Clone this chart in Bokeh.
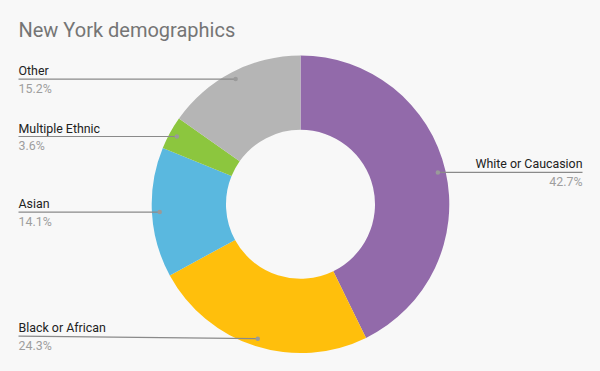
import math
from bokeh.plotting import figure
from bokeh.models import Range1d, ColumnDataSource
from bokeh.core.properties import value
from bokeh.embed import file_html
from bokeh.resources import INLINE

# ---- data ----
title = "New York demographics"
categories = ["White or Caucasion", "Black or African", "Asian", "Multiple Ethnic", "Other"]
percentages = [42.7, 24.3, 14.1, 3.6, 15.2]
colors = ["#926aaa", "#ffbf0c", "#5ab8df", "#8cc63e", "#b5b5b5"]

# ---- layout (reference pixel coords, y measured from top) ----
W, H = 600, 371
M = 8
CX, CY = 300.0, 203.8
R_OUT, R_IN, R_DOT = 148.8, 74.5, 141.0
LEFT_X, RIGHT_X = 18, 582
# label line y (ref px) where it differs from the dot (collision shift)
label_line_override = {"Black or African": 335.7}

def Y(ry):
    return H - ry

p = figure(width=W - 2 * M, height=H - 2 * M, output_backend="svg",
           toolbar_location=None, x_range=Range1d(0, W - 2 * M),
           y_range=Range1d(2 * M, H), min_border=0)
p.axis.visible = False
p.grid.visible = False
p.outline_line_color = None
p.background_fill_color = "#f8f8f8"
p.border_fill_color = "#f8f8f8"

total = sum(percentages)
starts, ends, mids = [], [], []
cum = 0.0
for v in percentages:
    a0 = math.pi / 2 - 2 * math.pi * cum / total
    cum += v
    a1 = math.pi / 2 - 2 * math.pi * cum / total
    starts.append(a0)
    ends.append(a1)
    mids.append((a0 + a1) / 2)

src = ColumnDataSource(dict(x=[CX] * len(categories), y=[Y(CY)] * len(categories),
                            start=starts, end=ends, color=colors))
p.annular_wedge(x="x", y="y", inner_radius=R_IN, outer_radius=R_OUT,
                start_angle="start", end_angle="end", direction="clock",
                fill_color="color", line_color=None, source=src)

font = value("Roboto")
for cat, v, m in zip(categories, percentages, mids):
    dx = CX + R_DOT * math.cos(m)
    dy = CY - R_DOT * math.sin(m)
    ly = label_line_override.get(cat, dy)
    right = dx > CX
    ex = RIGHT_X if right else LEFT_X
    align = "right" if right else "left"
    p.line([dx, ex], [Y(dy), Y(ly)], line_color="#8a8a8a", line_width=1.2)
    p.scatter([dx], [Y(dy)], size=4.5, fill_color="#9a9a9a", line_color=None)
    p.text([ex], [Y(ly - 8.5)], text=[cat], text_font=font, text_font_size="12.4px",
           text_color="#222222", text_align=align, text_baseline="alphabetic")
    p.text([ex], [Y(ly + 9)], text=[f"{v}%"], text_font=font, text_font_size="12.4px",
           text_color="#9e9e9e", text_align=align, text_baseline="alphabetic")

p.text([LEFT_X], [Y(29)], text=[title], text_font=font, text_font_size="20px",
       text_color="#757575", text_align="left", text_baseline="alphabetic")

html = file_html(p, INLINE)
html = html.replace("<head>", "<head><style>body{background:#f8f8f8;}</style>", 1)
open("out.html", "w").write(html)
